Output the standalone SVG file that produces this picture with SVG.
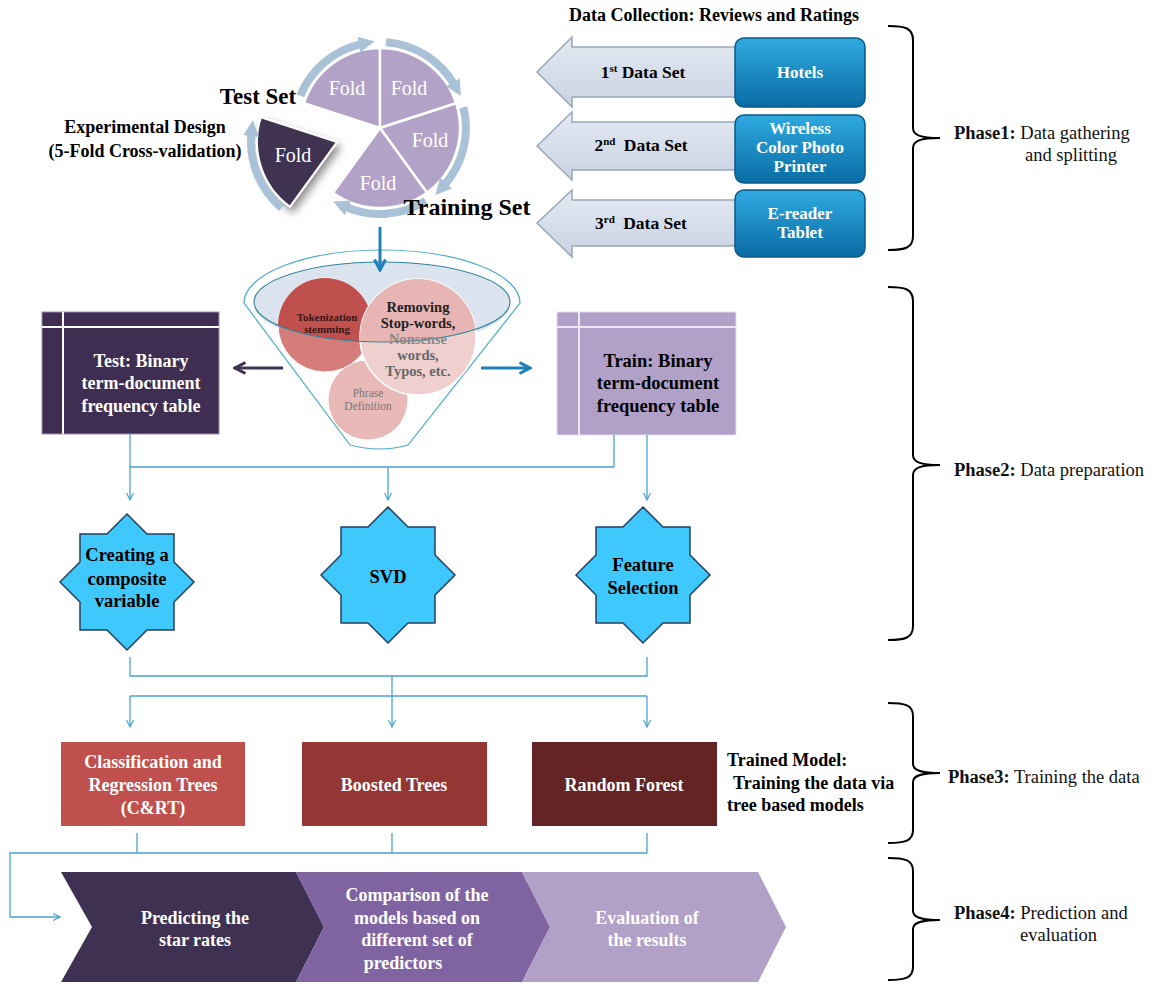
<svg xmlns="http://www.w3.org/2000/svg" width="1154" height="984" viewBox="0 0 1154 984">
<defs>
<style>
text{font-family:"Liberation Serif","Times New Roman",serif;}
.b{font-weight:bold;}
.w{fill:#fff;}
.k{fill:#000;}
.c{text-anchor:middle;}
.conn{fill:none;stroke:#4aa3d4;stroke-width:1.3;}
.brace{fill:none;stroke:#000;stroke-width:2;}
.slice{fill:#b3a2c7;stroke:#fff;stroke-width:2.5;}
.ring{fill:none;stroke:#a9c2d7;stroke-width:8;marker-end:url(#ringhead);}
.fold{font-size:20px;fill:#fff;text-anchor:middle;}
.star{fill:#3ec8fb;stroke:#24405f;stroke-width:1.5;}
.ds{fill:url(#gArrow);stroke:#9aa6b8;stroke-width:1.5;}
.dbox{fill:url(#gBlue);stroke:#0a5a88;stroke-width:1.5;}
.dst{font-size:17.5px;font-weight:bold;text-anchor:middle;}
.bx{font-size:17px;font-weight:bold;text-anchor:middle;fill:#fff;}
.st{font-size:18.5px;font-weight:bold;text-anchor:middle;fill:#000;}
.bt{font-size:18px;font-weight:bold;text-anchor:middle;fill:#fff;}
.ph{font-size:18.5px;fill:#111;}
.rm{font-size:14.5px;font-weight:bold;text-anchor:middle;}
</style>
<linearGradient id="gBlue" x1="0" y1="0" x2="0" y2="1"><stop offset="0" stop-color="#2faae1"/><stop offset="1" stop-color="#0a6ba4"/></linearGradient>
<linearGradient id="gArrow" x1="0" y1="0" x2="0" y2="1"><stop offset="0" stop-color="#e4eaf3"/><stop offset="1" stop-color="#c8d2e1"/></linearGradient>
<marker id="ringhead" markerUnits="userSpaceOnUse" viewBox="0 0 10 10" refX="2" refY="5" markerWidth="16" markerHeight="16" orient="auto"><path d="M0,0 L10,5 L0,10 z" fill="#a9c2d7"/></marker>
<marker id="v" markerUnits="userSpaceOnUse" viewBox="0 0 8 8" refX="7.5" refY="4" markerWidth="8" markerHeight="8" orient="auto"><path d="M0.5,0.5 L7.5,4 L0.5,7.5" fill="none" stroke="#4aa3d4" stroke-width="1.2"/></marker>
<marker id="vb" markerUnits="userSpaceOnUse" viewBox="0 0 14 14" refX="12" refY="7" markerWidth="14" markerHeight="14" orient="auto"><path d="M1.5,1.5 L12,7 L1.5,12.5" fill="none" stroke="#1f80b9" stroke-width="3"/></marker>
<marker id="vp" markerUnits="userSpaceOnUse" viewBox="0 0 14 14" refX="12" refY="7" markerWidth="14" markerHeight="14" orient="auto"><path d="M1.5,1.5 L12,7 L1.5,12.5" fill="none" stroke="#3f3151" stroke-width="3"/></marker>
<polygon id="starshape" points="0,-68 20,-48 47,-48 47,-20 67,0 47,20 47,48 20,48 0,68 -20,48 -47,48 -47,20 -67,0 -47,-20 -47,-48 -20,-48"/>
<filter id="sh" x="-50%" y="-50%" width="200%" height="200%"><feDropShadow dx="3" dy="5" stdDeviation="4" flood-color="#000" flood-opacity="0.45"/></filter>
<clipPath id="bowl"><ellipse cx="382" cy="302" rx="128" ry="40"/></clipPath>
</defs>
<rect width="1154" height="984" fill="#fff"/>

<!-- Title -->
<text x="714" y="21" class="b c k" font-size="18">Data Collection: Reviews and Ratings</text>

<!-- Cross-validation pie -->
<g id="crossval">
  <path class="slice" d="M380,128 L303.9,103.3 A80,80 0 0,1 380,48 Z"/>
  <path class="slice" d="M380,128 L380,48 A80,80 0 0,1 456.1,103.3 Z"/>
  <path class="slice" d="M380,128 L456.1,103.3 A80,80 0 0,1 427,192.7 Z"/>
  <path class="slice" d="M380,128 L427,192.7 A80,80 0 0,1 333,192.7 Z"/>
  <path d="M337,142 L290,206.7 A80,80 0 0,1 260.9,117.3 Z" fill="#3f3151" stroke="#fff" stroke-width="2" filter="url(#sh)"/>
  <path class="ring" d="M300.3,95.8 A86,86 0 0,1 362.1,43.9"/>
  <path class="ring" d="M386,42.2 A86,86 0 0,1 454.5,85"/>
  <path class="ring" d="M463.4,107.2 A86,86 0 0,1 443.9,185.5"/>
  <path class="ring" d="M425.6,200.9 A86,86 0 0,1 345,206.6"/>
  <path class="ring" d="M281.7,207.9 A86,86 0 0,1 251.5,133"/>
  <text class="fold" x="347" y="95">Fold</text>
  <text class="fold" x="409" y="95">Fold</text>
  <text class="fold" x="430" y="147">Fold</text>
  <text class="fold" x="378" y="190">Fold</text>
  <text class="fold" x="293" y="162">Fold</text>
  <text x="258" y="104" class="b c k" font-size="23">Test Set</text>
  <text x="467" y="215" class="b c k" font-size="24">Training Set</text>
  <text x="145" y="133" class="b c k" font-size="18">Experimental Design</text>
  <text x="145" y="157" class="b c k" font-size="18">(5-Fold Cross-validation)</text>
</g>

<!-- Data sets -->
<g id="dataset1">
  <path class="ds" d="M537,72 L572,37 L572,47 L745,47 L745,97 L572,97 L572,107 Z"/>
  <text x="643" y="78" class="dst k">1<tspan font-size="11" dy="-6">st</tspan><tspan dy="6"> Data Set</tspan></text>
</g>
<g id="hotels">
  <rect class="dbox" x="735" y="38" width="130" height="69" rx="9"/>
  <text x="800" y="78" class="bx">Hotels</text>
</g>
<g id="dataset2">
  <path class="ds" d="M537,146 L572,112 L572,122 L745,122 L745,170 L572,170 L572,180 Z"/>
  <text x="641" y="151" class="dst k">2<tspan font-size="11" dy="-6">nd</tspan><tspan dy="6" dx="4"> Data Set</tspan></text>
</g>
<g id="printer">
  <rect class="dbox" x="735" y="115" width="130" height="68" rx="9"/>
  <text x="800" y="134" class="bx">Wireless</text>
  <text x="800" y="153" class="bx">Color Photo</text>
  <text x="800" y="172" class="bx">Printer</text>
</g>
<g id="dataset3">
  <path class="ds" d="M537,223 L572,190 L572,200 L745,200 L745,246 L572,246 L572,257 Z"/>
  <text x="641" y="229" class="dst k">3<tspan font-size="11" dy="-6">rd</tspan><tspan dy="6" dx="4"> Data Set</tspan></text>
</g>
<g id="ereader">
  <rect class="dbox" x="735" y="190" width="130" height="67" rx="9"/>
  <text x="800" y="219" class="bx">E-reader</text>
  <text x="800" y="238" class="bx">Tablet</text>
</g>

<!-- Funnel -->
<g id="funnel">
  <path d="M244,303 A138,53 0 0,1 520,303 L408,445 Q380,453 350,445 Z" fill="#fff" stroke="#4bacc6" stroke-width="1.2"/>
  <ellipse cx="382" cy="304" rx="128" ry="42" fill="#dbe4ee"/>
  <circle cx="368" cy="400" r="40" fill="#e9b9b8" stroke="#fff" stroke-width="1"/>
  <circle cx="325" cy="325" r="47" fill="#d47d7b" stroke="#fff" stroke-width="1"/>
  <circle cx="325" cy="325" r="47" fill="#c0504d" clip-path="url(#bowl)"/>
  <circle cx="418" cy="337" r="58" fill="#f0d0cf" stroke="#fff" stroke-width="1.5"/>
  <circle cx="418" cy="337" r="58" fill="#e6b5b4" clip-path="url(#bowl)"/>
  <ellipse cx="382" cy="302" rx="128" ry="40" fill="none" stroke="#31859c" stroke-width="1.2"/>
  <text x="327" y="321" class="b c" font-size="11" fill="#3a1616">Tokenization</text>
  <text x="327" y="333" class="b c" font-size="11" fill="#3a1616">stemming</text>
  <text x="418" y="312" class="rm" fill="#222">Removing</text>
  <text x="418" y="328" class="rm" fill="#222">Stop-words,</text>
  <text x="418" y="344" class="rm" fill="#888">Nonsense</text>
  <text x="418" y="360" class="rm" fill="#666">words,</text>
  <text x="418" y="376" class="rm" fill="#666">Typos, etc.</text>
  <text x="368" y="397" class="c" font-size="11.5" fill="#777">Phrase</text>
  <text x="368" y="410" class="c" font-size="11.5" fill="#777">Definition</text>
</g>

<!-- Tables -->
<g id="testtable">
  <rect x="42" y="312" width="177" height="122" fill="#3f2e52" stroke="#9a8fb0" stroke-width="1"/>
  <line x1="42" y1="327" x2="219" y2="327" stroke="#fff" stroke-width="2"/>
  <line x1="63" y1="312" x2="63" y2="434" stroke="#fff" stroke-width="2"/>
  <text x="141" y="367" class="bt">Test: Binary</text>
  <text x="141" y="389" class="bt">term-document</text>
  <text x="141" y="412" class="bt">frequency table</text>
</g>
<g id="traintable">
  <rect x="557" y="312" width="179" height="123" fill="#b1a0c8" stroke="#e6dfee" stroke-width="1"/>
  <line x1="557" y1="327" x2="736" y2="327" stroke="#eee8f4" stroke-width="2"/>
  <line x1="579" y1="312" x2="579" y2="435" stroke="#eee8f4" stroke-width="2"/>
  <text x="658" y="367" class="st">Train: Binary</text>
  <text x="658" y="389" class="st">term-document</text>
  <text x="658" y="412" class="st">frequency table</text>
</g>

<!-- Stars -->
<g id="composite">
  <use href="#starshape" x="127" y="582" class="star"/>
  <text x="127" y="561" class="st">Creating a</text>
  <text x="127" y="585" class="st">composite</text>
  <text x="127" y="607" class="st">variable</text>
</g>
<g id="svd">
  <use href="#starshape" x="388" y="575" class="star"/>
  <text x="388" y="583" class="st">SVD</text>
</g>
<g id="featsel">
  <use href="#starshape" x="643" y="575" class="star"/>
  <text x="643" y="571" class="st">Feature</text>
  <text x="643" y="594" class="st">Selection</text>
</g>

<!-- Models -->
<g id="cart">
  <rect x="61" y="742" width="184" height="84" fill="#c0504d"/>
  <text x="153" y="768" class="bt">Classification and</text>
  <text x="153" y="791" class="bt">Regression Trees</text>
  <text x="153" y="814" class="bt">(C&amp;RT)</text>
</g>
<g id="boosted">
  <rect x="302" y="742" width="185" height="84" fill="#943634"/>
  <text x="394" y="791" class="bt">Boosted Trees</text>
</g>
<g id="rf">
  <rect x="532" y="742" width="185" height="84" fill="#632423"/>
  <text x="624" y="791" class="bt">Random Forest</text>
</g>
<g id="trainedlabel">
  <text x="727" y="766" class="b k" font-size="18">Trained Model:</text>
  <text x="733" y="789" class="b k" font-size="18">Training the data via</text>
  <text x="727" y="811" class="b k" font-size="18">tree based models</text>
</g>

<!-- Chevrons -->
<g id="predict">
  <path d="M61,872 L296,872 L324,927 L296,982 L61,982 L92,927 Z" fill="#3f3151"/>
  <text x="195" y="924" class="bt">Predicting the</text>
  <text x="195" y="946" class="bt">star rates</text>
</g>
<g id="compare">
  <path d="M296,872 L522,872 L550,927 L522,982 L296,982 L324,927 Z" fill="#8064a2"/>
  <text x="417" y="901" class="bt">Comparison of the</text>
  <text x="417" y="924" class="bt">models based on</text>
  <text x="417" y="946" class="bt">different set of</text>
  <text x="403" y="969" class="bt">predictors</text>
</g>
<g id="evaluate">
  <path d="M522,872 L758,872 L786,927 L758,982 L522,982 L550,927 Z" fill="#b2a1c7"/>
  <text x="647" y="924" class="bt">Evaluation of</text>
  <text x="647" y="946" class="bt">the results</text>
</g>

<!-- Phases -->
<g id="phase1">
  <path class="brace" d="M888,26 C905,26 913,28 913,40 L913,128 C913,135 920,138 940,138 C920,138 913,141 913,148 L913,236 C913,248 905,250 888,250"/>
  <text x="954" y="139" class="ph"><tspan font-weight="bold">Phase1:</tspan> Data gathering</text>
  <text x="1025" y="161" class="ph">and splitting</text>
</g>
<g id="phase2">
  <path class="brace" d="M888,287 C905,287 913,289 913,301 L913,455 C913,462 920,465 940,465 C920,465 913,468 913,475 L913,626 C913,638 905,640 888,640"/>
  <text x="954" y="476" class="ph"><tspan font-weight="bold">Phase2:</tspan> Data preparation</text>
</g>
<g id="phase3">
  <path class="brace" d="M888,703 C905,703 913,705 913,716 L913,764 C913,770 920,773 940,773 C920,773 913,776 913,782 L913,830 C913,841 905,843 888,843"/>
  <text x="948" y="783" class="ph"><tspan font-weight="bold">Phase3:</tspan> Training the data</text>
</g>
<g id="phase4">
  <path class="brace" d="M888,858 C905,858 913,860 913,871 L913,911 C913,917 920,920 940,920 C920,920 913,923 913,929 L913,967 C913,978 905,980 888,980"/>
  <text x="954" y="919" class="ph"><tspan font-weight="bold">Phase4:</tspan> Prediction and</text>
  <text x="1020" y="941" class="ph">evaluation</text>
</g>

<!-- Connectors -->
<g id="connectors">
  <line x1="380" y1="227" x2="380" y2="270" stroke="#1f80b9" stroke-width="3" marker-end="url(#vb)"/>
  <line x1="283" y1="368" x2="235" y2="368" stroke="#3f3151" stroke-width="3" marker-end="url(#vp)"/>
  <line x1="481" y1="368" x2="530" y2="368" stroke="#1f80b9" stroke-width="3" marker-end="url(#vb)"/>
  <path class="conn" d="M130,434 L130,500" marker-end="url(#v)"/>
  <path class="conn" d="M130,467 L614,467 M614,435 L614,467"/>
  <path class="conn" d="M388,467 L388,500" marker-end="url(#v)"/>
  <path class="conn" d="M647,435 L647,500" marker-end="url(#v)"/>
  <path class="conn" d="M130,657 L130,676 L647,676 L647,657 M392,676 L392,696"/>
  <path class="conn" d="M130,696 L647,696"/>
  <path class="conn" d="M130,696 L130,727" marker-end="url(#v)"/>
  <path class="conn" d="M392,696 L392,727" marker-end="url(#v)"/>
  <path class="conn" d="M647,696 L647,727" marker-end="url(#v)"/>
  <path class="conn" d="M137,833 L137,853 M392,833 L392,853 M647,833 L647,853"/>
  <path class="conn" d="M647,853 L10,853 L10,917 L60,917" marker-end="url(#v)"/>
</g>
</svg>
